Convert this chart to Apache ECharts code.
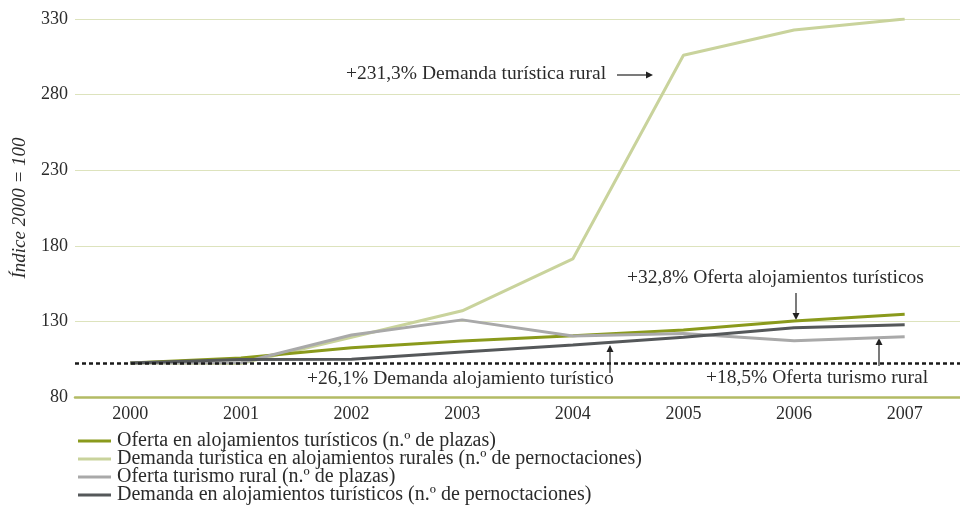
<!DOCTYPE html>
<html>
<head>
<meta charset="utf-8">
<script src="https://cdn.jsdelivr.net/npm/echarts@6/dist/echarts.min.js"></script>
<style>
  html, body { margin: 0; padding: 0; background: #fff; }
  #chart { width: 960px; height: 505px; }
</style>
</head>
<body>
<div id="chart"></div>
<script>
// datos (índice 2000 = 100)
var years = ['2000', '2001', '2002', '2003', '2004', '2005', '2006', '2007'];
var ofertaAlojamientos = [102.5, 105.8, 112.5, 117, 120.5, 124.3, 130.3, 134.8];
var demandaRural = [102.5, 102.2, 119.5, 137, 171.3, 306, 322.7, 330];
var ofertaRural = [102.5, 102.6, 121, 131, 120.3, 122, 117.2, 119.8];
var demandaAlojamientos = [102.5, 104.8, 105, 109.8, 114.4, 119.5, 125.8, 127.8];
var baseLine = 102.5;
var yTicks = [80, 130, 180, 230, 280, 330];

var legendNames = [
    'Oferta en alojamientos turísticos (n.º de plazas)',
    'Demanda turística en alojamientos rurales (n.º de pernoctaciones)',
    'Oferta turismo rural (n.º de plazas)',
    'Demanda en alojamientos turísticos (n.º de pernoctaciones)'
];
var colors = ['#8a9a1c', '#c9d39c', '#a9a9a9', '#55585a'];
var serif = '"Liberation Serif", "DejaVu Serif", serif';
var txtColor = '#2b2b2b';

// flecha: linea + punta
function arrow(x1, y1, x2, y2) {
    var ang = Math.atan2(y2 - y1, x2 - x1);
    var s = 7, w = 3.5;
    var bx = x2 - s * Math.cos(ang), by = y2 - s * Math.sin(ang);
    var px = -Math.sin(ang) * w, py = Math.cos(ang) * w;
    return [
        { type: 'line', shape: { x1: x1, y1: y1, x2: bx, y2: by }, style: { stroke: '#222', lineWidth: 1.2 } },
        { type: 'polygon', shape: { points: [[x2, y2], [bx + px, by + py], [bx - px, by - py]] }, style: { fill: '#222' } }
    ];
}
function label(x, y, text) {
    return { type: 'text', x: x, y: y, style: { text: text, font: '19.5px ' + serif, fill: txtColor, textVerticalAlign: 'middle' } };
}

var seriesData = [ofertaAlojamientos, demandaRural, ofertaRural, demandaAlojamientos];
var series = [];
for (var i = 0; i < seriesData.length; i++) {
    series.push({
        name: legendNames[i],
        type: 'line',
        data: seriesData[i],
        symbol: 'none',
        lineStyle: { color: colors[i], width: 3 },
        itemStyle: { color: colors[i] },
        z: i == 1 ? 2 : 3
    });
}
// linea base (punteada)
series[0].markLine = {
    silent: true,
    symbol: 'none',
    label: { show: false },
    lineStyle: { color: '#1a1a1a', type: [4, 3], width: 2.5 },
    data: [{ yAxis: baseLine }]
};

var graphics = [
    label(346, 74, '+231,3% Demanda turística rural'),
    label(627, 278, '+32,8% Oferta alojamientos turísticos'),
    label(307, 379, '+26,1% Demanda alojamiento turístico'),
    label(706, 378, '+18,5% Oferta turismo rural')
]
    .concat(arrow(617, 75, 653, 75))
    .concat(arrow(796, 293, 796, 320))
    .concat(arrow(610, 373, 610, 345))
    .concat(arrow(879, 366, 879, 338));

var option = {
    animation: false,
    backgroundColor: '#ffffff',
    grid: { left: 75, right: 0, top: 19, bottom: 108, containLabel: false },
    legend: {
        orient: 'vertical',
        left: 78,
        top: 431,
        height: 80,
        padding: 0,
        itemGap: -2,
        itemWidth: 33,
        itemHeight: 3,
        icon: 'rect',
        textStyle: { fontFamily: serif, fontSize: 20, color: txtColor, lineHeight: 18, padding: [0, 0, 0, 1] },
        data: legendNames
    },
    xAxis: {
        type: 'category',
        data: years,
        boundaryGap: true,
        axisLine: { lineStyle: { color: '#b3bb64', width: 2.5 } },
        axisTick: { show: false },
        axisLabel: { fontFamily: serif, fontSize: 18, color: txtColor, margin: 8 }
    },
    yAxis: {
        type: 'value',
        min: yTicks[0],
        max: yTicks[yTicks.length - 1],
        interval: 50,
        name: 'Índice 2000 = 100',
        nameLocation: 'middle',
        nameGap: 46,
        nameTextStyle: { fontFamily: serif, fontSize: 19, fontStyle: 'italic', color: txtColor },
        axisLine: { show: false },
        axisTick: { show: false },
        axisLabel: { fontFamily: serif, fontSize: 18, color: txtColor, margin: 7 },
        splitLine: { lineStyle: { color: '#dde3bd', width: 1.2 } }
    },
    graphic: graphics,
    series: series
};

var chart = echarts.init(document.getElementById('chart'));
chart.setOption(option);
</script>
</body>
</html>
